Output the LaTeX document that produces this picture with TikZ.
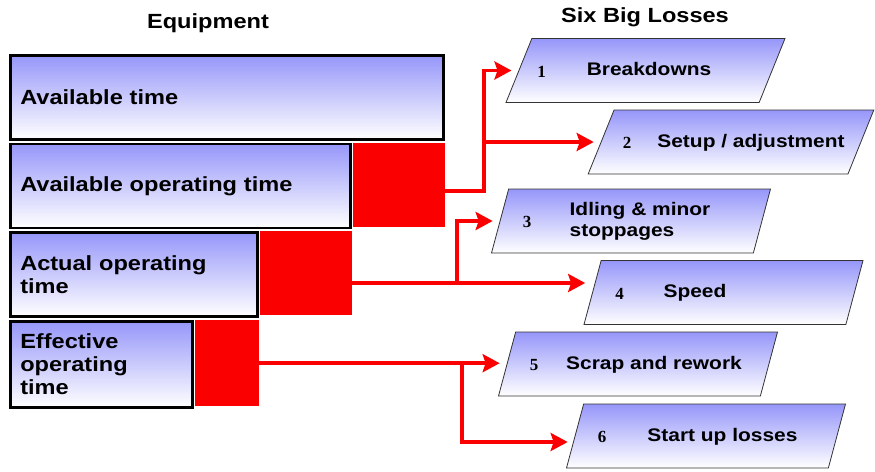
\documentclass[tikz,border=0pt]{standalone}
\usepackage{fontspec}
\setmainfont{Liberation Sans}[FakeStretch=1.15]
\newfontfamily\numfont{Liberation Serif}
\usetikzlibrary{shapes.geometric,arrows.meta}
\definecolor{boxblue}{RGB}{150,150,250}
\definecolor{lossred}{RGB}{250,0,0}

\begin{document}
\begin{tikzpicture}[x=1pt, y=-1pt,
    eqbox/.style={draw=black, line width=2.5pt, top color=boxblue, bottom color=white,
        anchor=north west, minimum height=84pt, inner xsep=10pt, text width=#1,
        align=left, font=\fontsize{20.5}{23}\selectfont\bfseries},
    redbox/.style={fill=lossred, anchor=north west, inner sep=0pt,
        minimum height=84pt, minimum width=#1},
    loss/.style={trapezium, trapezium stretches body, trapezium left angle=#1,
        trapezium right angle=180-#1, draw=black!80, line width=0.8pt,
        top color=boxblue, bottom color=white, minimum width=279pt,
        text height=15pt, text depth=5pt, inner ysep=22pt,
        align=left, font=\fontsize{18.2}{21.8}\selectfont\bfseries},
    num/.style={font=\numfont\fontsize{17}{17}\selectfont\bfseries},
    head/.style={anchor=base, font=\fontsize{20.5}{23}\selectfont\bfseries},
    flow/.style={draw=lossred, line width=3.5pt,
        -{Stealth[length=17pt, width=18pt, inset=3pt]}, shorten >=7pt}]
    \useasboundingbox (0,0) rectangle (875,471);

    % Headings
    \node[head] (hequip) at (208,28) {Equipment};
    \node[head] (hlosses) at (645,23) {Six Big Losses};

    % Equipment time bars
    \node[eqbox=413pt] (eq1) at (9,54) {Available time};
    \node[eqbox=320pt] (eq2) at (9,142.5) {Available operating time};
    \node[eqbox=227pt] (eq3) at (9,231) {Actual operating\\time};
    \node[eqbox=162pt, minimum height=86pt] (eq4) at (9,320) {Effective\\operating\\time};

    % Lost time
    \node[redbox=92pt] (red2) at ([xshift=1.2pt]eq2.north east) {};
    \node[redbox=92pt] (red3) at ([xshift=1.2pt]eq3.north east) {};
    \node[redbox=64pt, minimum height=86pt] (red4) at ([xshift=1.2pt]eq4.north east) {};

    % Six big losses
    \node[loss=68] (loss1) at (645.5,70.5) {\hspace*{7pt}Breakdowns};
    \node[loss=68] (loss2) at (731,142) {\hspace*{40pt}Setup / adjustment};
    \node[loss=75, text height=36.8pt, inner ysep=11.1pt] (loss3) at (631,221)
        {\hspace*{18pt}Idling \& minor\\\hspace*{18pt}stoppages};
    \node[loss=75] (loss4) at (723.5,292.5) {Speed\hspace*{57pt}};
    \node[loss=75] (loss5) at (638,364) {\hspace*{32pt}Scrap and rework};
    \node[loss=75] (loss6) at (706,436) {\hspace*{33pt}Start up losses};

    \node[num] (n1) at ([xshift=-104pt, yshift=-1pt]loss1.center) {1};
    \node[num] (n2) at ([xshift=-104pt, yshift=-1pt]loss2.center) {2};
    \node[num] (n3) at ([xshift=-104pt, yshift=-1pt]loss3.center) {3};
    \node[num] (n4) at ([xshift=-104pt, yshift=-1pt]loss4.center) {4};
    \node[num] (n5) at ([xshift=-104pt, yshift=-1pt]loss5.center) {5};
    \node[num] (n6) at ([xshift=-104pt, yshift=-1pt]loss6.center) {6};

    % Branch points
    \coordinate (j1) at (484,191);
    \coordinate (j2) at (457,283);
    \coordinate (j3) at (462,363);

    % Arrows
    \draw[flow] (red2.east |- j1) -- (j1) |- (loss1.west);
    \draw[flow] (j1 |- loss2.west) -- (loss2.west);
    \draw[flow] (red3.east |- j2) -- (loss4.west |- j2);
    \draw[flow] (j2) |- (loss3.west);
    \draw[flow] (red4.east) -- (red4.east -| loss5.west);
    \draw[flow] (j3) |- ([yshift=-6pt]loss6.west);
\end{tikzpicture}
\end{document}
